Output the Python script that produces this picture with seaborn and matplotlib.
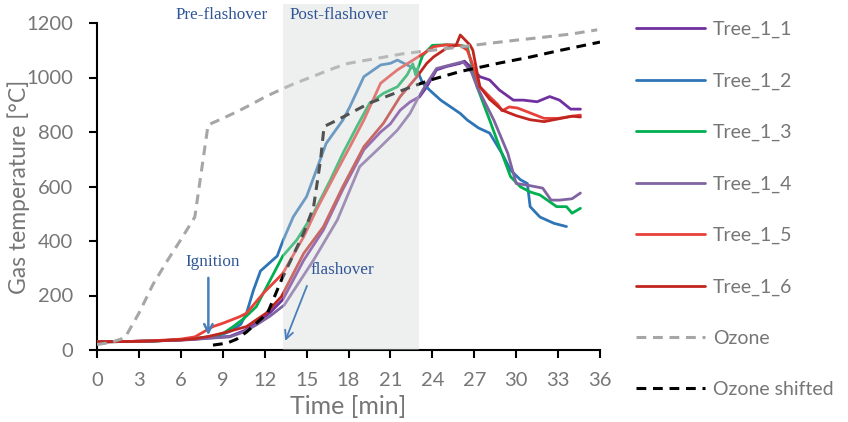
import matplotlib
matplotlib.use("Agg")
import matplotlib.pyplot as plt
import seaborn as sns
from matplotlib.patches import Rectangle

# ---------------- data ----------------
series_names = ["Tree_1_1", "Tree_1_2", "Tree_1_3", "Tree_1_4", "Tree_1_5", "Tree_1_6", "Ozone", "Ozone shifted"]

t_11 = [0, 2, 4, 6, 7, 8, 9.5, 10.5, 11.4, 12.4, 13.3, 14.8, 16.2, 17.6, 19.1, 20.3, 21, 21.7, 22.4, 23.1, 23.6, 24.3, 25, 26, 26.3, 27, 27.4, 28.1, 28.8, 29.8, 30.5, 31.5, 32.4, 33.1, 33.9, 34.6]
T_11 = [30, 31, 33, 37, 40, 44, 50, 70, 98, 138, 185, 330, 440, 590, 735, 800, 830, 880, 910, 930, 966, 1028, 1040, 1052, 1060, 1025, 1003, 991, 954, 917, 917, 911, 930, 917, 884, 884]

t_12 = [0, 2, 4, 6, 7, 8, 9, 9.6, 10.3, 10.7, 11.2, 11.7, 12.4, 12.9, 13.3, 14.05, 15, 15.7, 16.4, 17.6, 18.1, 19.1, 20.3, 21, 21.5, 22.2, 22.9, 23.3, 23.8, 24.6, 26, 26.5, 27.3, 28.1, 29, 29.6, 30.3, 30.8, 31.0, 31.7, 32.7, 33.6]
T_12 = [30, 31, 33, 38, 42, 48, 58, 70, 95, 135, 220, 290, 322, 345, 400, 489, 563, 660, 758, 844, 893, 1003, 1046, 1052, 1064, 1046, 1028, 980, 954, 917, 868, 844, 815, 796, 720, 660, 625, 611, 526, 488, 465, 453]

t_13 = [0, 2, 4, 6, 7, 8, 9, 9.75, 10.5, 11.4, 12.4, 13.3, 14.3, 15.5, 16.7, 17.6, 18.6, 19.5, 20.5, 21.5, 22.2, 22.6, 22.8, 23.3, 24, 25, 26, 26.5, 27.2, 28.1, 28.8, 29.6, 30.3, 31, 31.7, 32.9, 33.6, 34, 34.6]
T_13 = [30, 31, 33, 38, 42, 48, 60, 86, 115, 159, 257, 345, 404, 502, 624, 722, 820, 905, 942, 966, 1010, 1050, 1010, 1080, 1118, 1120, 1118, 1113, 966, 844, 746, 636, 599, 580, 569, 526, 526, 502, 520]

t_14 = [0, 2, 4, 6, 7, 8, 9.5, 10.5, 11.4, 12.4, 13.4, 15.5, 17.2, 18.8, 20.3, 21.5, 22.4, 22.9, 23.5, 24.3, 25.2, 26.2, 26.8, 27.2, 28.4, 29.4, 30, 30.8, 31.9, 32.5, 33.1, 34, 34.6]
T_14 = [30, 31, 33, 36, 39, 43, 48, 66, 92, 125, 165, 330, 477, 673, 746, 807, 868, 917, 970, 1033, 1045, 1058, 1020, 966, 844, 722, 611, 605, 594, 550, 550, 555, 576]

t_15 = [0, 2, 4, 6, 7, 8.3, 9, 10.2, 10.7, 11.9, 13.3, 14.8, 15.7, 17.2, 18.1, 19.1, 20.3, 21.5, 22.5, 23.4, 24.1, 25, 26, 26.5, 26.8, 27.4, 28.1, 28.7, 29.0, 29.5, 30.1, 31, 32, 33, 34, 34.6]
T_15 = [30, 31, 34, 40, 48, 86, 98, 122, 135, 208, 281, 416, 514, 660, 746, 844, 979, 1028, 1060, 1089, 1113, 1120, 1118, 1100, 1060, 966, 930, 900, 878, 892, 888, 870, 850, 850, 858, 862]

t_16 = [0, 2, 4, 6, 7, 8, 9, 10.7, 12.1, 13.2, 14.8, 16.2, 17.6, 19.1, 20.5, 21.7, 22.9, 23.6, 24.1, 25, 25.7, 26, 26.7, 26.9, 27.4, 28.1, 29, 30, 31, 32, 33, 34, 34.6]
T_16 = [30, 31, 33, 37, 41, 50, 62, 86, 135, 196, 355, 452, 600, 746, 832, 930, 1003, 1052, 1076, 1107, 1118, 1156, 1119, 1100, 966, 920, 880, 860, 845, 838, 848, 858, 855]

t_ozone = [0, 1, 2, 3, 4, 5, 6, 7, 7.95, 9, 10, 11, 12, 13, 14, 15, 16, 17, 18, 20, 22, 24, 26, 28, 30, 32, 34, 35.8]
T_ozone = [20, 28, 45, 135, 240, 325, 405, 488, 826, 850, 874, 900, 928, 952, 975, 995, 1015, 1035, 1052, 1070, 1088, 1100, 1112, 1125, 1137, 1148, 1160, 1175]

t_shift = [8.3, 9.3, 10, 10.7, 11.4, 12.2, 12.9, 13.2, 14.8, 15.5, 16.0, 16.25, 17.2, 19.5, 21.9, 23.8, 26, 28.8, 31, 33, 36]
T_shift = [18, 25, 40, 66, 98, 135, 220, 257, 430, 525, 697, 820, 844, 906, 954, 990, 1022, 1053, 1075, 1098, 1130]

x_ticks = list(range(0, 37, 3))
y_ticks = list(range(0, 1201, 200))

# ---------------- style ----------------
sns.set_style("white")
plt.rcParams["font.family"] = ["Lato", "DejaVu Sans"]

colors = ["#7030a0", "#2e75b6", "#00b050", "#8064a2", "#e8413a", "#c0261f", "#a6a6a6", "#000000"]
gray_txt = "#767676"
blue_txt = "#2f5597"
arrow_c = "#4a7ebb"

fig = plt.figure(figsize=(8.48, 4.22), dpi=100)
ax = fig.add_axes([97 / 848, 1 - 350 / 422, 503 / 848, 327 / 422])

data = [(t_11, T_11), (t_12, T_12), (t_13, T_13), (t_14, T_14), (t_15, T_15), (t_16, T_16)]
for (tt, TT), name, c in zip(data, series_names[:6], colors[:6]):
    sns.lineplot(x=tt, y=TT, ax=ax, color=c, lw=2.0, label=name, sort=False, zorder=3)

sns.lineplot(x=t_ozone, y=T_ozone, ax=ax, color=colors[6], lw=2.2, label=series_names[6],
             sort=False, linestyle=(0, (3.2, 2.2)), zorder=3)
sns.lineplot(x=t_shift, y=T_shift, ax=ax, color=colors[7], lw=2.2, label=series_names[7],
             sort=False, linestyle=(0, (3.2, 2.2)), zorder=3)

# shaded post-flashover region (drawn over the lines, semi-transparent)
ax.add_patch(Rectangle((13.3, 0), 23.05 - 13.3, 1270, facecolor=(0.83, 0.845, 0.845),
                       alpha=0.38, edgecolor="none", zorder=4, clip_on=False))

ax.set_xlim(0, 36)
ax.set_ylim(0, 1200)
ax.set_xticks(x_ticks)
ax.set_yticks(y_ticks)
ax.tick_params(axis="both", direction="out", length=6, width=1.5, color="black",
               labelsize=14.5, labelcolor=gray_txt, bottom=True, left=True)
ax.tick_params(axis="y", pad=11)
ax.tick_params(axis="x", pad=10)
for s in ["top", "right"]:
    ax.spines[s].set_visible(False)
for s in ["left", "bottom"]:
    ax.spines[s].set_color("black")
    ax.spines[s].set_linewidth(1.5)
ax.set_xlabel("Time [min]", fontsize=18, color=gray_txt)
ax.xaxis.label.set_va("center")
ax.xaxis.set_label_coords(0.5, (350 - 407) / 327)
ax.set_ylabel("Gas temperature [°C]", fontsize=16.5, color=gray_txt)
ax.yaxis.label.set_va("center")
ax.yaxis.set_label_coords((19 - 97) / 503, 0.5)

# annotations
serif = ["Liberation Serif", "DejaVu Serif"]
ax.text(8.95, 1229, "Pre-flashover", family=serif, fontsize=12.3, color=blue_txt,
        ha="center", va="center", zorder=6, clip_on=False)
ax.text(17.3, 1229, "Post-flashover", family=serif, fontsize=12.3, color=blue_txt,
        ha="center", va="center", zorder=6, clip_on=False)
ax.text(8.3, 323, "Ignition", family=serif, fontsize=12.3, color=blue_txt,
        ha="center", va="center", zorder=6)
ax.text(15.3, 294, "flashover", family=serif, fontsize=12.3, color=blue_txt,
        ha="left", va="center", zorder=6)
ax.annotate("", xy=(7.97, 44), xytext=(7.97, 275),
            arrowprops=dict(arrowstyle="->,head_length=0.6,head_width=0.3", color=arrow_c, lw=1.8),
            zorder=6)
ax.annotate("", xy=(13.4, 24), xytext=(15.1, 245),
            arrowprops=dict(arrowstyle="->,head_length=0.6,head_width=0.3", color=arrow_c, lw=1.3),
            zorder=6)

handles, labels = ax.get_legend_handles_labels()
leg = ax.legend(handles, labels, loc="upper left", bbox_to_anchor=(636 / 848, 1 - 21 / 422),
                bbox_transform=fig.transFigure, frameon=False, fontsize=14,
                handlelength=3.55, handletextpad=0.4, labelspacing=1.76,
                borderpad=0, borderaxespad=0)
for txt in leg.get_texts():
    txt.set_color(gray_txt)

fig.savefig("out.png", dpi=100)
